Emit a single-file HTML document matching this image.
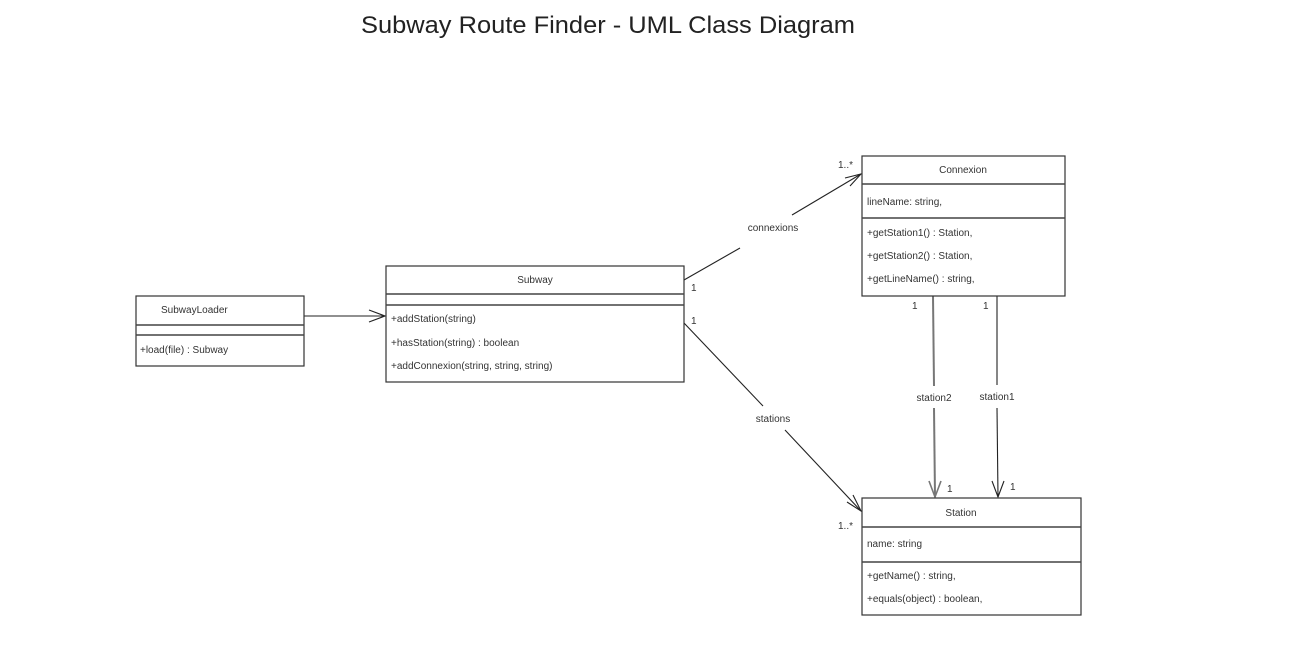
<!DOCTYPE html>
<html><head><meta charset="utf-8"><style>
html,body{margin:0;padding:0;background:#fff;}
svg{display:block;font-family:"Liberation Sans","DejaVu Sans",sans-serif;}
.t{font-size:10px;fill:#333;}
.b{fill:#fff;stroke:#333;stroke-width:1.2;}
.d{stroke:#444;stroke-width:1.5;}
.l{stroke:#222;stroke-width:1.1;fill:none;}
</style></head><body>
<svg width="1293" height="672" viewBox="0 0 1293 672">
<text x="608" y="33" text-anchor="middle" font-size="24" fill="#222" textLength="494" lengthAdjust="spacingAndGlyphs">Subway Route Finder - UML Class Diagram</text>

<!-- connectors -->
<line class="l" x1="304" y1="316" x2="385" y2="316"/>
<polyline class="l" points="369,310 385,316 369,322"/>

<line class="l" x1="684" y1="280" x2="740" y2="248"/>
<line class="l" x1="792" y1="215" x2="861" y2="174"/>
<polyline class="l" points="845,178 861,174 850,186"/>

<line class="l" x1="684" y1="323" x2="763" y2="406"/>
<line class="l" x1="785" y1="430" x2="861" y2="511"/>
<polyline class="l" points="853,495 861,511 847,502"/>

<line x1="933" y1="296" x2="934" y2="386" stroke="#777" stroke-width="2"/>
<line x1="934" y1="408" x2="935" y2="497" stroke="#777" stroke-width="2"/>
<polyline points="929,481 935,497 941,481" fill="none" stroke="#777" stroke-width="1.6"/>
<line class="l" x1="997" y1="296" x2="997" y2="385"/>
<line class="l" x1="997" y1="408" x2="998" y2="497"/>
<polyline class="l" points="992,481 998,497 1004,481"/>

<text class="t" x="773" y="231" text-anchor="middle">connexions</text>
<text class="t" x="773" y="422" text-anchor="middle">stations</text>
<text class="t" x="934" y="401" text-anchor="middle">station2</text>
<text class="t" x="997" y="400" text-anchor="middle">station1</text>
<text class="t" x="691" y="291">1</text>
<text class="t" x="691" y="324">1</text>
<text class="t" x="838" y="168">1..*</text>
<text class="t" x="838" y="529">1..*</text>
<text class="t" x="912" y="309">1</text>
<text class="t" x="983" y="309">1</text>
<text class="t" x="947" y="492">1</text>
<text class="t" x="1010" y="490">1</text>

<!-- SubwayLoader -->
<rect class="b" x="136" y="296" width="168" height="70"/>
<line class="d" x1="136" y1="325" x2="304" y2="325"/>
<line class="d" x1="136" y1="335" x2="304" y2="335"/>
<text class="t" x="161" y="313">SubwayLoader</text>
<text class="t" x="140" y="353">+load(file) : Subway</text>

<!-- Subway -->
<rect class="b" x="386" y="266" width="298" height="116"/>
<line class="d" x1="386" y1="294" x2="684" y2="294"/>
<line class="d" x1="386" y1="305" x2="684" y2="305"/>
<text class="t" x="535" y="283" text-anchor="middle">Subway</text>
<text class="t" x="391" y="322">+addStation(string)</text>
<text class="t" x="391" y="346">+hasStation(string) : boolean</text>
<text class="t" x="391" y="369">+addConnexion(string, string, string)</text>

<!-- Connexion -->
<rect class="b" x="862" y="156" width="203" height="140"/>
<line class="d" x1="862" y1="184" x2="1065" y2="184"/>
<line class="d" x1="862" y1="218" x2="1065" y2="218"/>
<text class="t" x="963" y="173" text-anchor="middle">Connexion</text>
<text class="t" x="867" y="205">lineName: string,</text>
<text class="t" x="867" y="236">+getStation1() : Station,</text>
<text class="t" x="867" y="259">+getStation2() : Station,</text>
<text class="t" x="867" y="282">+getLineName() : string,</text>

<!-- Station -->
<rect class="b" x="862" y="498" width="219" height="117"/>
<line class="d" x1="862" y1="527" x2="1081" y2="527"/>
<line class="d" x1="862" y1="562" x2="1081" y2="562"/>
<text class="t" x="961" y="516" text-anchor="middle">Station</text>
<text class="t" x="867" y="547">name: string</text>
<text class="t" x="867" y="579">+getName() : string,</text>
<text class="t" x="867" y="602">+equals(object) : boolean,</text>
</svg>
</body></html>
